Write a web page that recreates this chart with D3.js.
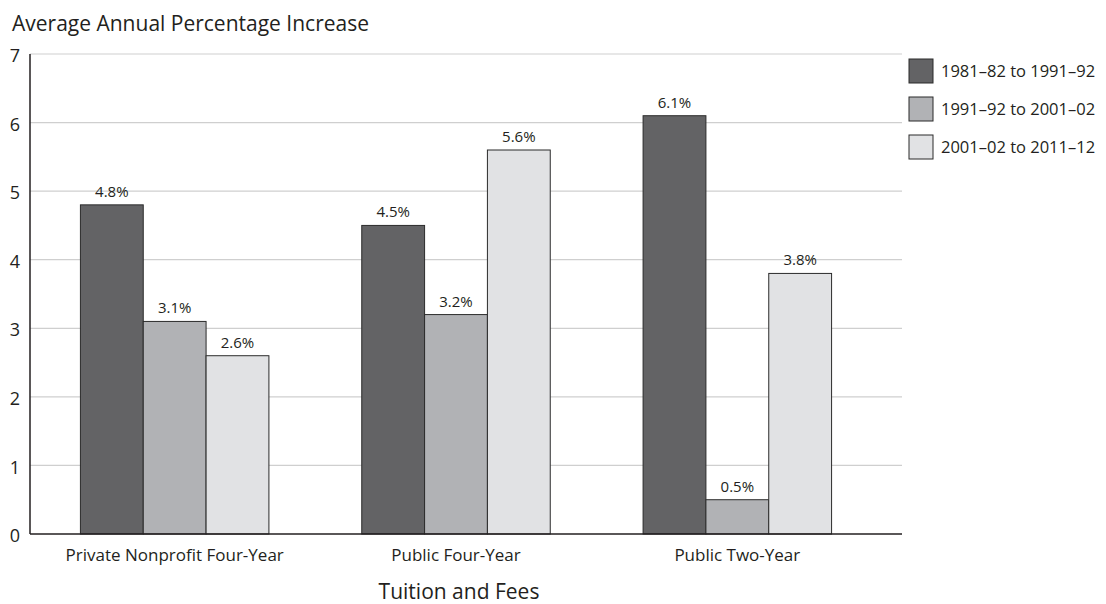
<!DOCTYPE html>
<html>
<head>
<meta charset="utf-8">
<script src="https://cdn.jsdelivr.net/npm/d3@7"></script>
<style>
    body { margin: 0; background: #fff; }
    svg text { font-family: "Open Sans", "Noto Sans", sans-serif; fill: #231f20; }
</style>
</head>
<body>
<svg id="chart" width="1106" height="604"></svg>
<script>
// Data
var categories = ["Private Nonprofit Four-Year", "Public Four-Year", "Public Two-Year"];
var periods = ["1981\u201382 to 1991\u201392", "1991\u201392 to 2001\u201302", "2001\u201302 to 2011\u201312"];
var values1981 = [4.8, 4.5, 6.1];
var values1991 = [3.1, 3.2, 0.5];
var values2001 = [2.6, 5.6, 3.8];
var yTicks = [0, 1, 2, 3, 4, 5, 6, 7];
var colors = ["#636365", "#b1b2b5", "#e1e2e4"];

var series = [values1981, values1991, values2001];

var svg = d3.select("#chart");

var plotLeft = 30, plotRight = 902, plotTop = 54, plotBottom = 534;

var y = d3.scaleLinear().domain([0, 7]).range([plotBottom, plotTop]);

var x0 = d3.scaleBand()
    .domain(categories)
    .range([34, 878])
    .paddingInner(0.33)
    .paddingOuter(0.165);

var x1 = d3.scaleBand()
    .domain(d3.range(periods.length))
    .range([0, x0.bandwidth()]);

// gridlines
svg.append("g")
    .selectAll("line")
    .data(yTicks.filter(function (d) { return d > 0; }))
    .enter()
    .append("line")
    .attr("x1", plotLeft)
    .attr("x2", plotRight)
    .attr("y1", function (d) { return y(d); })
    .attr("y2", function (d) { return y(d); })
    .attr("stroke", "#cfcfcf")
    .attr("stroke-width", 1.2);

// y tick labels
svg.append("g")
    .selectAll("text")
    .data(yTicks)
    .enter()
    .append("text")
    .attr("x", 15)
    .attr("y", function (d) { return y(d); })
    .attr("dy", "0.45em")
    .attr("text-anchor", "middle")
    .attr("font-size", 18)
    .text(function (d) { return d; });

// bars
var groups = svg.append("g")
    .selectAll("g")
    .data(categories)
    .enter()
    .append("g")
    .attr("transform", function (d) { return "translate(" + x0(d) + ",0)"; });

groups.selectAll("rect")
    .data(function (d, i) {
        return series.map(function (s, k) { return { k: k, v: s[i] }; });
    })
    .enter()
    .append("rect")
    .attr("x", function (d) { return x1(d.k); })
    .attr("y", function (d) { return y(d.v); })
    .attr("width", x1.bandwidth())
    .attr("height", function (d) { return y(0) - y(d.v); })
    .attr("fill", function (d) { return colors[d.k]; })
    .attr("stroke", "#2b2b2b")
    .attr("stroke-width", 1);

// value labels
groups.selectAll("text")
    .data(function (d, i) {
        return series.map(function (s, k) { return { k: k, v: s[i] }; });
    })
    .enter()
    .append("text")
    .attr("x", function (d) { return x1(d.k) + x1.bandwidth() / 2; })
    .attr("y", function (d) { return y(d.v) - 8; })
    .attr("text-anchor", "middle")
    .attr("font-size", 15)
    .text(function (d) { return d.v.toFixed(1) + "%"; });

// axis lines
svg.append("line")
    .attr("x1", plotLeft).attr("x2", plotLeft)
    .attr("y1", plotTop).attr("y2", plotBottom)
    .attr("stroke", "#231f20").attr("stroke-width", 1.5);
svg.append("line")
    .attr("x1", plotLeft).attr("x2", plotRight)
    .attr("y1", plotBottom).attr("y2", plotBottom)
    .attr("stroke", "#231f20").attr("stroke-width", 1.5);

// category labels
svg.append("g")
    .selectAll("text")
    .data(categories)
    .enter()
    .append("text")
    .attr("x", function (d) { return x0(d) + x0.bandwidth() / 2; })
    .attr("y", 561)
    .attr("text-anchor", "middle")
    .attr("font-size", 17)
    .text(function (d) { return d; });

// axis titles
svg.append("text")
    .attr("x", 12)
    .attr("y", 31)
    .attr("font-size", 21)
    .text("Average Annual Percentage Increase");

svg.append("text")
    .attr("x", 459)
    .attr("y", 599)
    .attr("text-anchor", "middle")
    .attr("font-size", 21)
    .text("Tuition and Fees");

// legend
var legend = svg.append("g")
    .selectAll("g")
    .data(periods)
    .enter()
    .append("g")
    .attr("transform", function (d, i) { return "translate(909," + (59 + i * 38) + ")"; });

legend.append("rect")
    .attr("width", 24)
    .attr("height", 24)
    .attr("fill", function (d, i) { return colors[i]; })
    .attr("stroke", "#2b2b2b")
    .attr("stroke-width", 1);

legend.append("text")
    .attr("x", 32)
    .attr("y", 12)
    .attr("dy", "0.35em")
    .attr("font-size", 16.5)
    .text(function (d) { return d; });
</script>
</body>
</html>
